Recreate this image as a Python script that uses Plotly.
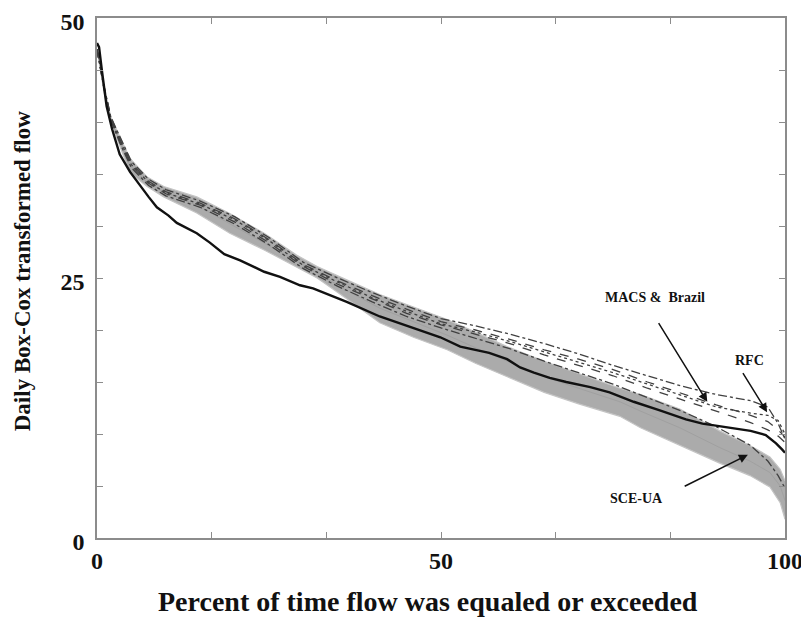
import plotly.graph_objects as go

# ---------------- data ----------------
# Observed flow duration curve (solid black)
obs_x = [0, 0.3, 0.7, 1.4, 2.2, 3.3, 4.8, 6.3, 7.5, 8.7, 10.4, 11.6, 14.5, 16.4, 18.5,
         20.8, 24.3, 26.6, 29.5, 31.4, 33, 36.3, 41.1, 46, 49.9, 52.8, 54.7, 57, 59.6, 61.5,
         63.5, 65.8, 68.2, 71.7, 74.5, 76, 78, 81.7, 85.6, 88, 92.3, 95, 97.2, 98.7, 99.6, 100]
obs_y = [47.6, 47.2, 45.0, 41.5, 39.3, 36.9, 35.2, 33.8, 32.8, 31.8, 31.0, 30.3, 29.3, 28.4, 27.3,
         26.7, 25.6, 25.1, 24.3, 24.0, 23.6, 22.7, 21.3, 20.2, 19.3, 18.4, 18.1, 17.8, 17.2, 16.4,
         15.9, 15.4, 15.0, 14.5, 14.0, 13.6, 13.1, 12.3, 11.4, 11.0, 10.6, 10.3, 9.9, 9.1, 8.5, 8.2]

# SCE-UA ensemble envelope (grey band)
band_x = [0, 0.5, 1, 2, 3.3, 4.8, 7.3, 9.7, 14.5, 19.3, 24.3, 29, 32, 36.3, 41.1, 46, 50.9,
          55, 59.6, 65, 70, 76, 79, 84.7, 90.5, 94.9, 97.8, 99.3, 100]
band_upper = [47.0, 45.5, 43.5, 40.5, 38.6, 36.5, 34.7, 33.8, 32.8, 31.2, 29.3, 27.2, 26.1, 24.8,
              23.4, 22.2, 21.0, 19.8, 18.4, 17.0, 15.8, 14.4, 13.8, 12.4, 10.3, 8.9, 7.8, 6.6, 5.5]
band_lower = [47.0, 45.0, 43.0, 40.0, 37.8, 35.1, 33.8, 32.8, 31.25, 29.3, 27.7, 26.1, 25.0, 23.0,
              20.7, 19.3, 18.1, 16.8, 15.5, 14.0, 12.9, 11.7, 10.6, 8.9, 7.2, 6.0, 4.9, 3.4, 1.8]
band_mid = [47.0, 45.2, 43.2, 40.2, 38.2, 35.8, 34.2, 33.3, 32.0, 30.2, 28.4, 26.6, 25.5, 23.8,
            22.1, 20.8, 19.5, 18.3, 17.0, 15.5, 14.4, 13.1, 12.2, 10.6, 8.7, 7.4, 6.3, 5.0, 3.6]

# MACS & Brazil / RFC calibrations (dashed / dash-dot)
cal_x = [0, 1, 2, 3.3, 5, 7.5, 10, 15, 20, 25, 30, 35, 40, 45, 50, 55, 60, 65, 70, 75, 80,
         85, 90, 95, 97.5, 99, 100]
cal_a = [47, 43.5, 40.5, 38.6, 36.2, 34.5, 33.5, 32.4, 30.9, 28.9, 26.5, 25.0, 23.6, 22.3, 21.1,
         20.4, 19.6, 18.7, 17.7, 16.6, 15.6, 14.6, 13.8, 13.2, 12.6, 11.0, 9.5]
cal_b = [47, 43.5, 40.5, 38.4, 36.0, 34.3, 33.3, 32.2, 30.7, 28.7, 26.3, 24.7, 23.3, 22.0, 20.8,
         20.0, 19.1, 18.1, 17.2, 16.2, 15.0, 13.9, 12.8, 11.8, 11.2, 10.4, 9.7]
cal_c = [47, 43.3, 40.3, 38.2, 35.8, 34.1, 33.1, 32.0, 30.4, 28.4, 26.1, 24.4, 23.0, 21.6, 20.5,
         19.6, 18.7, 17.6, 16.6, 15.6, 14.4, 13.3, 12.2, 11.1, 10.4, 9.8, 9.2]
cal_d = [47, 43.3, 40.2, 38.0, 35.6, 33.9, 32.9, 31.8, 30.2, 28.2, 25.9, 24.2, 22.7, 21.3, 20.2,
         19.2, 18.2, 17.0, 15.9, 14.8, 13.5, 12.2, 10.7, 8.9, 7.4, 6.0, 4.8]
cal_e = [47, 43.4, 40.4, 38.3, 35.9, 34.2, 33.2, 32.1, 30.6, 28.6, 26.2, 24.6, 23.1, 21.8, 20.6,
         19.8, 18.9, 17.9, 16.9, 15.9, 14.8, 13.7, 12.6, 12.0, 11.8, 11.3, 10.0]

x_tick_vals = [0, 50, 100]
y_tick_vals = [0, 25, 50]

# ---------------- figure ----------------
fig = go.Figure()

# grey band
fig.add_trace(go.Scatter(x=band_x, y=band_upper, mode="lines",
                         line=dict(color="#c4c4c4", width=1.2), showlegend=False, hoverinfo="skip"))
fig.add_trace(go.Scatter(x=band_x, y=band_lower, mode="lines", fill="tonexty",
                         fillcolor="#ababab", line=dict(color="#c4c4c4", width=1.2),
                         showlegend=False, hoverinfo="skip"))
fig.add_trace(go.Scatter(x=band_x, y=band_mid, mode="lines",
                         line=dict(color="#a0a0a0", width=1), showlegend=False, hoverinfo="skip"))

cal_styles = [(cal_a, "dashdot"), (cal_b, "dash"), (cal_c, "dash"), (cal_d, "dashdot"), (cal_e, "dot")]
for ys, dash in cal_styles:
    fig.add_trace(go.Scatter(x=cal_x, y=ys, mode="lines",
                             line=dict(color="#404040", width=1.3, dash=dash),
                             showlegend=False, hoverinfo="skip"))

fig.add_trace(go.Scatter(x=obs_x, y=obs_y, mode="lines",
                         line=dict(color="#111111", width=2.4), showlegend=False, hoverinfo="skip"))

serif = "Liberation Serif, Times New Roman, serif"
tickfont = dict(family=serif, size=24, color="#111111", weight="bold")

axis_common = dict(showgrid=False, zeroline=False, showline=True, linecolor="#8c8c8c",
                   linewidth=1.5, mirror="allticks", ticks="inside", ticklen=6,
                   tickcolor="#8c8c8c", tickwidth=1, tickfont=tickfont, automargin=False,
                   ticklabeloverflow="allow")

fig.update_xaxes(range=[0, 100], tickvals=x_tick_vals, ticktext=[str(v) for v in x_tick_vals],
                 minor=dict(dtick=100 / 6, ticks="inside", ticklen=6, tickcolor="#8c8c8c", tickwidth=1),
                 ticklabelstandoff=0, **axis_common)
fig.update_yaxes(range=[0, 50], tickvals=y_tick_vals, ticktext=[str(v) for v in y_tick_vals],
                 minor=dict(dtick=5, ticks="inside", ticklen=6, tickcolor="#8c8c8c", tickwidth=1),
                 ticklabelstandoff=6, ticklabelshift=4, **axis_common)

ann_font = dict(family=serif, size=14, color="#111111", weight="bold")
arrow = dict(showarrow=True, arrowhead=2, arrowsize=1.2, arrowwidth=1.5, arrowcolor="#111111",
             xref="x", yref="y", axref="x", ayref="y", text="")
annotations = [
    dict(x=88.7, y=13.1, ax=81.5, ay=20.8, **arrow),
    dict(x=81.1, y=23.1, xref="x", yref="y", text="MACS &  Brazil", showarrow=False, font=ann_font),
    dict(x=97.4, y=12.1, ax=93.75, ay=16.0, **arrow),
    dict(x=94.9, y=17.1, xref="x", yref="y", text="RFC", showarrow=False, font=ann_font),
    dict(x=94.6, y=8.0, ax=85.2, ay=4.9, **arrow),
    dict(x=78.4, y=3.8, xref="x", yref="y", text="SCE-UA", showarrow=False, font=ann_font),
    dict(x=0.481, y=-0.123, xref="paper", yref="paper", text="Percent of time flow was equaled or exceeded",
         showarrow=False, font=dict(family=serif, size=28, color="#111111", weight="bold"),
         xanchor="center", yanchor="middle"),
    dict(x=-0.109, y=0.513, xref="paper", yref="paper", text="Daily Box-Cox transformed flow",
         showarrow=False, textangle=-90, font=dict(family=serif, size=23, color="#111111", weight="bold"),
         xanchor="center", yanchor="middle"),
]

# the page body has an 8px margin, so the figure is shrunk by 8px and margins shifted
fig.update_layout(width=801, height=610, margin=dict(l=89, r=24, t=10, b=80),
                  plot_bgcolor="white", paper_bgcolor="white", annotations=annotations)

fig.write_html("out.html")
